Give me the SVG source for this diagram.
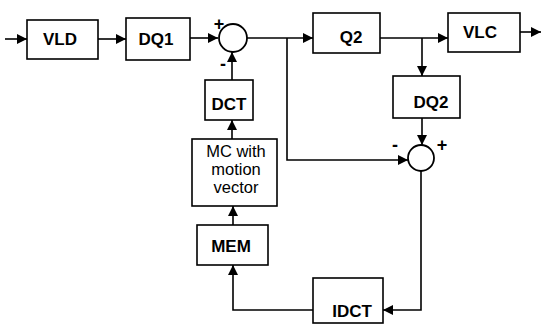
<svg xmlns="http://www.w3.org/2000/svg" width="545" height="325" viewBox="0 0 545 325">
<defs>
<style>
.box{fill:#fff;stroke:#000;stroke-width:1.6}
.sum{fill:#fff;stroke:#000;stroke-width:1.8}
.lbl{font-family:"Liberation Sans",Arial,sans-serif;font-size:17px;font-weight:bold;text-anchor:middle;fill:#000}
.mc{font-family:"Liberation Sans",Arial,sans-serif;font-size:16.5px;text-anchor:middle;fill:#000}
.sign{font-family:"Liberation Sans",Arial,sans-serif;font-size:18px;font-weight:bold;text-anchor:middle;fill:#000}
.wire{fill:none;stroke:#000;stroke-width:1.6}
</style>
<marker id="arr" viewBox="0 0 10 10" refX="10" refY="5" markerWidth="11" markerHeight="10" markerUnits="userSpaceOnUse" orient="auto">
<path d="M0,0 L10,5 L0,10 z" fill="#000"/>
</marker>
</defs>
<rect width="545" height="325" fill="#fff"/>
<g id="connectors">
<path class="wire" d="M5,39 H27" marker-end="url(#arr)"/>
<path class="wire" d="M98,39 H126" marker-end="url(#arr)"/>
<path class="wire" d="M190,38 H218" marker-end="url(#arr)"/>
<path class="wire" d="M247,38 H313" marker-end="url(#arr)"/>
<path class="wire" d="M287,38 V160 H408" marker-end="url(#arr)"/>
<path class="wire" d="M380,38 H448" marker-end="url(#arr)"/>
<path class="wire" d="M422,38 V76" marker-end="url(#arr)"/>
<path class="wire" d="M422,118 V145" marker-end="url(#arr)"/>
<path class="wire" d="M520,32 H541" marker-end="url(#arr)"/>
<path class="wire" d="M421,171 V310 H383" marker-end="url(#arr)"/>
<path class="wire" d="M313,310 H233 V265" marker-end="url(#arr)"/>
<path class="wire" d="M233,225 V206" marker-end="url(#arr)"/>
<path class="wire" d="M232,139 V120" marker-end="url(#arr)"/>
<path class="wire" d="M232,80 V52" marker-end="url(#arr)"/>
</g>
<g id="VLD"><rect class="box" x="27" y="20" width="71" height="39"/><text class="lbl" x="60" y="45">VLD</text></g>
<g id="DQ1"><rect class="box" x="126" y="18" width="64" height="42"/><text class="lbl" x="156" y="45">DQ1</text></g>
<g id="sum1"><circle class="sum" cx="233" cy="38" r="14"/><text class="sign" x="219" y="30">+</text><text class="sign" x="223" y="70">-</text></g>
<g id="Q2"><rect class="box" x="313" y="13" width="67" height="40"/><text class="lbl" x="351" y="43">Q2</text></g>
<g id="VLC"><rect class="box" x="448" y="13" width="72" height="39"/><text class="lbl" x="480" y="38">VLC</text></g>
<g id="DQ2"><rect class="box" x="393" y="76" width="67" height="42"/><text class="lbl" x="431" y="108">DQ2</text></g>
<g id="sum2"><circle class="sum" cx="421" cy="158" r="13"/><text class="sign" x="395" y="151">-</text><text class="sign" x="442" y="151">+</text></g>
<g id="DCT"><rect class="box" x="205" y="80" width="48" height="40"/><text class="lbl" x="229" y="110">DCT</text></g>
<g id="MC"><rect class="box" x="192" y="139" width="85" height="67"/><text class="mc" x="236" y="157">MC with</text><text class="mc" x="236" y="175">motion</text><text class="mc" x="236" y="193">vector</text></g>
<g id="MEM"><rect class="box" x="197" y="225" width="71" height="40"/><text class="lbl" x="231" y="252">MEM</text></g>
<g id="IDCT"><rect class="box" x="313" y="278" width="70" height="45"/><text class="lbl" x="352" y="317">IDCT</text></g>
</svg>
